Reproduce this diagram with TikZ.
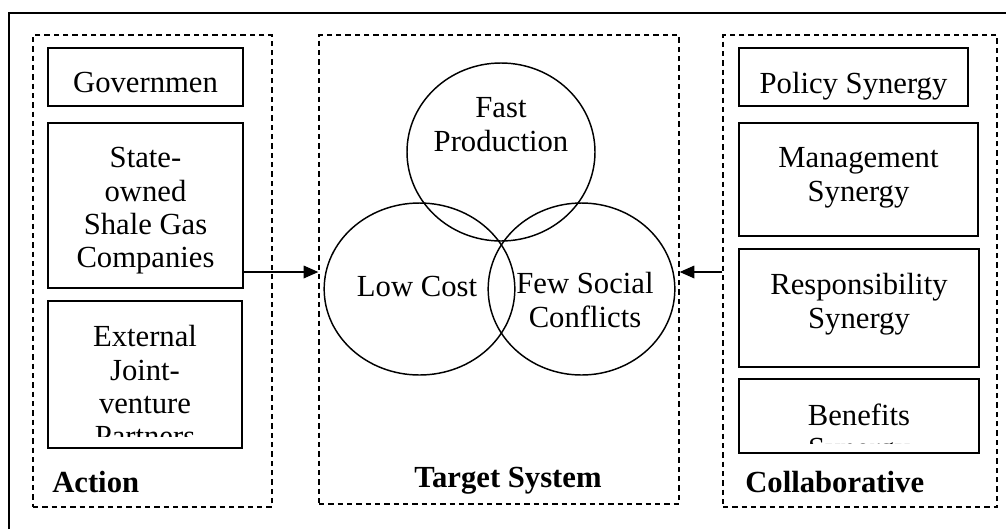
\documentclass[tikz,border=0pt]{standalone}
\usepackage{fontspec}
\setmainfont{Liberation Serif}
\usepackage{tikz}
\usetikzlibrary{shapes.geometric, arrows.meta, positioning, fit, calc}

% text hung from the top of a box and cut off above its bottom edge
\newcommand{\boxtext}[3]{%
    \begin{scope}
        \clip ($(#1.north west)+(1,1)$) rectangle ($(#1.south east)+(-1,-#2)$);
        \node[boxlabel, anchor=north] (#1-text) at ($(#1.north)+(0,25)$) {#3};
    \end{scope}}

\begin{document}
\begin{tikzpicture}[
        x=0.75pt, y=-0.75pt,
        group/.style={draw, dash pattern=on 4pt off 3pt, line width=1pt, inner sep=0pt},
        item/.style={draw, line width=0.9pt, inner sep=0pt},
        boxlabel/.style={align=center, inner sep=0pt, font=\fontsize{23}{25}\selectfont},
        ring/.style={ellipse, draw, line width=1.1pt, inner sep=0pt},
        ringlabel/.style={align=center, inner sep=0pt, font=\fontsize{23}{25.5}\selectfont},
        title/.style={inner sep=0pt, font=\fontsize{23}{25}\selectfont\bfseries},
        arrow/.style={-{Triangle[length=11pt, width=9.5pt]}, line width=0.9pt},
    ]
    \useasboundingbox (0,0) rectangle (1006,529);
    % outer frame, open on the right and at the bottom
    \draw[line width=1.5pt] (9,529) -- (9,13) -- (1006,13);

    % the three systems
    \node[group, fit={(33,35) (272,507)}] (action) {};
    \node[group, fit={(319,35) (679,504)}] (target) {};
    \node[group, fit={(723,35) (997,507)}] (collab) {};

    % actors
    \node[item, fit={(48,48) (243,106)}] (gov) {};
    \node[item, fit={(48,123) (243,288)}] (soe) {};
    \node[item, fit={(48,301) (242,448)}] (ext) {};
    \boxtext{gov}{1}{Governmen}
    \boxtext{soe}{1}{State-\\owned\\Shale Gas\\Companies}
    \boxtext{ext}{12}{External\\Joint-\\venture\\Partners}

    % synergies
    \node[item, fit={(739,48) (968,106)}] (policy) {};
    \node[item, fit={(739,123) (978,236)}] (mgmt) {};
    \node[item, fit={(739,249) (979,367)}] (resp) {};
    \node[item, fit={(739,379) (979,453)}] (bene) {};
    \boxtext{policy}{1}{Policy Synergy}
    \boxtext{mgmt}{1}{Management\\Synergy}
    \boxtext{resp}{1}{Responsibility\\Synergy}
    \boxtext{bene}{10}{Benefits\\Synergy}

    % goals
    \node[ring, minimum width=141pt, minimum height=133.5pt] (fast) at (501,152) {};
    \node[ring, minimum width=143pt, minimum height=129pt] (cost) at (419.5,289) {};
    \node[ring, minimum width=140pt, minimum height=129pt] (social) at (581.5,289) {};
    \node[ringlabel, anchor=north] (fast-text) at (501,97) {Fast\\Production};
    \node[ringlabel] (cost-text) at (417,286) {Low Cost};
    \node[ringlabel, anchor=north] (social-text) at (585,272) {Few Social\\Conflicts};

    \node[title, anchor=base west] (action-title) at (52,492) {Action};
    \node[title, anchor=base] (target-title) at (508,487) {Target System};
    \node[title, anchor=base west] (collab-title) at (745,492) {Collaborative};

    \coordinate (lvl) at (0,272);
    \draw[arrow] (soe.east |- lvl) -- (target.west |- lvl);
    \draw[arrow] (collab.west |- lvl) -- (target.east |- lvl);
\end{tikzpicture}
\end{document}
